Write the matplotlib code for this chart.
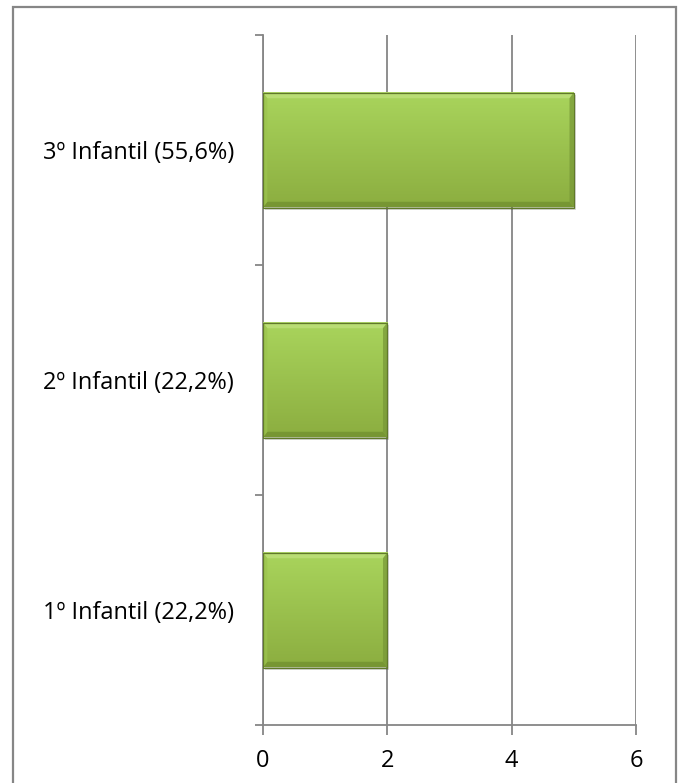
import matplotlib
matplotlib.use("Agg")
import matplotlib.pyplot as plt
import numpy as np
from matplotlib.patches import Rectangle, Polygon
from matplotlib.colors import LinearSegmentedColormap

categories = ["1º Infantil (22,2%)", "2º Infantil (22,2%)", "3º Infantil (55,6%)"]
values = [2, 2, 5]
xticks = [0, 2, 4, 6]

plt.rcParams['font.family'] = ['Open Sans', 'DejaVu Sans']

W, H = 681, 783
fig = plt.figure(figsize=(W/100, H/100), dpi=100)
ax = fig.add_axes([263/W, 1-725/H, (636-263)/W, (725-35)/H])

grey = '#868686'
fs = 17
ax.set_xlim(0, 6)
ax.set_ylim(-0.5, 2.5)
ax.set_xticks(xticks)
ax.set_xticklabels([str(t) for t in xticks])
ax.set_yticks(range(len(categories)))
ax.set_yticklabels(categories)
ax.set_yticks([-0.5, 0.5, 1.5, 2.5], minor=True)
ax.tick_params(axis='y', which='major', length=0, pad=21, labelsize=fs)
ax.tick_params(axis='y', which='minor', length=6, color=grey, width=1.3, direction='out')
ax.tick_params(axis='x', which='major', length=7, color=grey, width=1.3, pad=10, labelsize=fs)
for s in ['top', 'right']:
    ax.spines[s].set_visible(False)
for s in ['left', 'bottom']:
    ax.spines[s].set_color(grey)
    ax.spines[s].set_linewidth(1.3)
ax.grid(axis='x', color=grey, linewidth=1.3)
ax.set_axisbelow(True)

cmap = LinearSegmentedColormap.from_list('g', ['#a9d45c', '#8cae40'])
h = 0.5
grad = np.linspace(0, 1, 100).reshape(-1, 1)
for i, v in enumerate(values):
    y0, y1 = i - h/2, i + h/2
    ax.add_patch(Rectangle((0.03, y0 - 0.012), v, h, facecolor='#000000', alpha=0.15, edgecolor='none', zorder=2))
    ax.imshow(grad, extent=(0, v, y0, y1), origin='upper', cmap=cmap, aspect='auto', zorder=3)
    bx = 0.07
    by = 0.025
    ax.add_patch(Polygon([(0, y1), (v, y1), (v - bx, y1 - by), (bx, y1 - by)], closed=True, facecolor='#c2e27f', edgecolor='none', alpha=0.7, zorder=4))
    ax.add_patch(Polygon([(0, y0), (v, y0), (v - bx, y0 + by), (bx, y0 + by)], closed=True, facecolor='#6f8d2e', edgecolor='none', alpha=0.7, zorder=4))
    ax.add_patch(Polygon([(v, y0), (v, y1), (v - bx, y1 - by), (v - bx, y0 + by)], closed=True, facecolor='#769636', edgecolor='none', alpha=0.7, zorder=4))
    ax.add_patch(Polygon([(0, y0), (0, y1), (bx, y1 - by), (bx, y0 + by)], closed=True, facecolor='#9cc44f', edgecolor='none', alpha=0.7, zorder=4))
    ax.add_patch(Rectangle((0, y0), v, h, facecolor='none', edgecolor='#60792a', linewidth=0.9, zorder=5))
ax.set_xlim(0, 6)
ax.set_ylim(-0.5, 2.5)

fig.add_artist(Rectangle((13/W, -0.01), (676-13)/W, 1 - 7/H + 0.01, transform=fig.transFigure,
                         fill=False, edgecolor=grey, linewidth=1.6))

fig.savefig('out.png', dpi=100)
